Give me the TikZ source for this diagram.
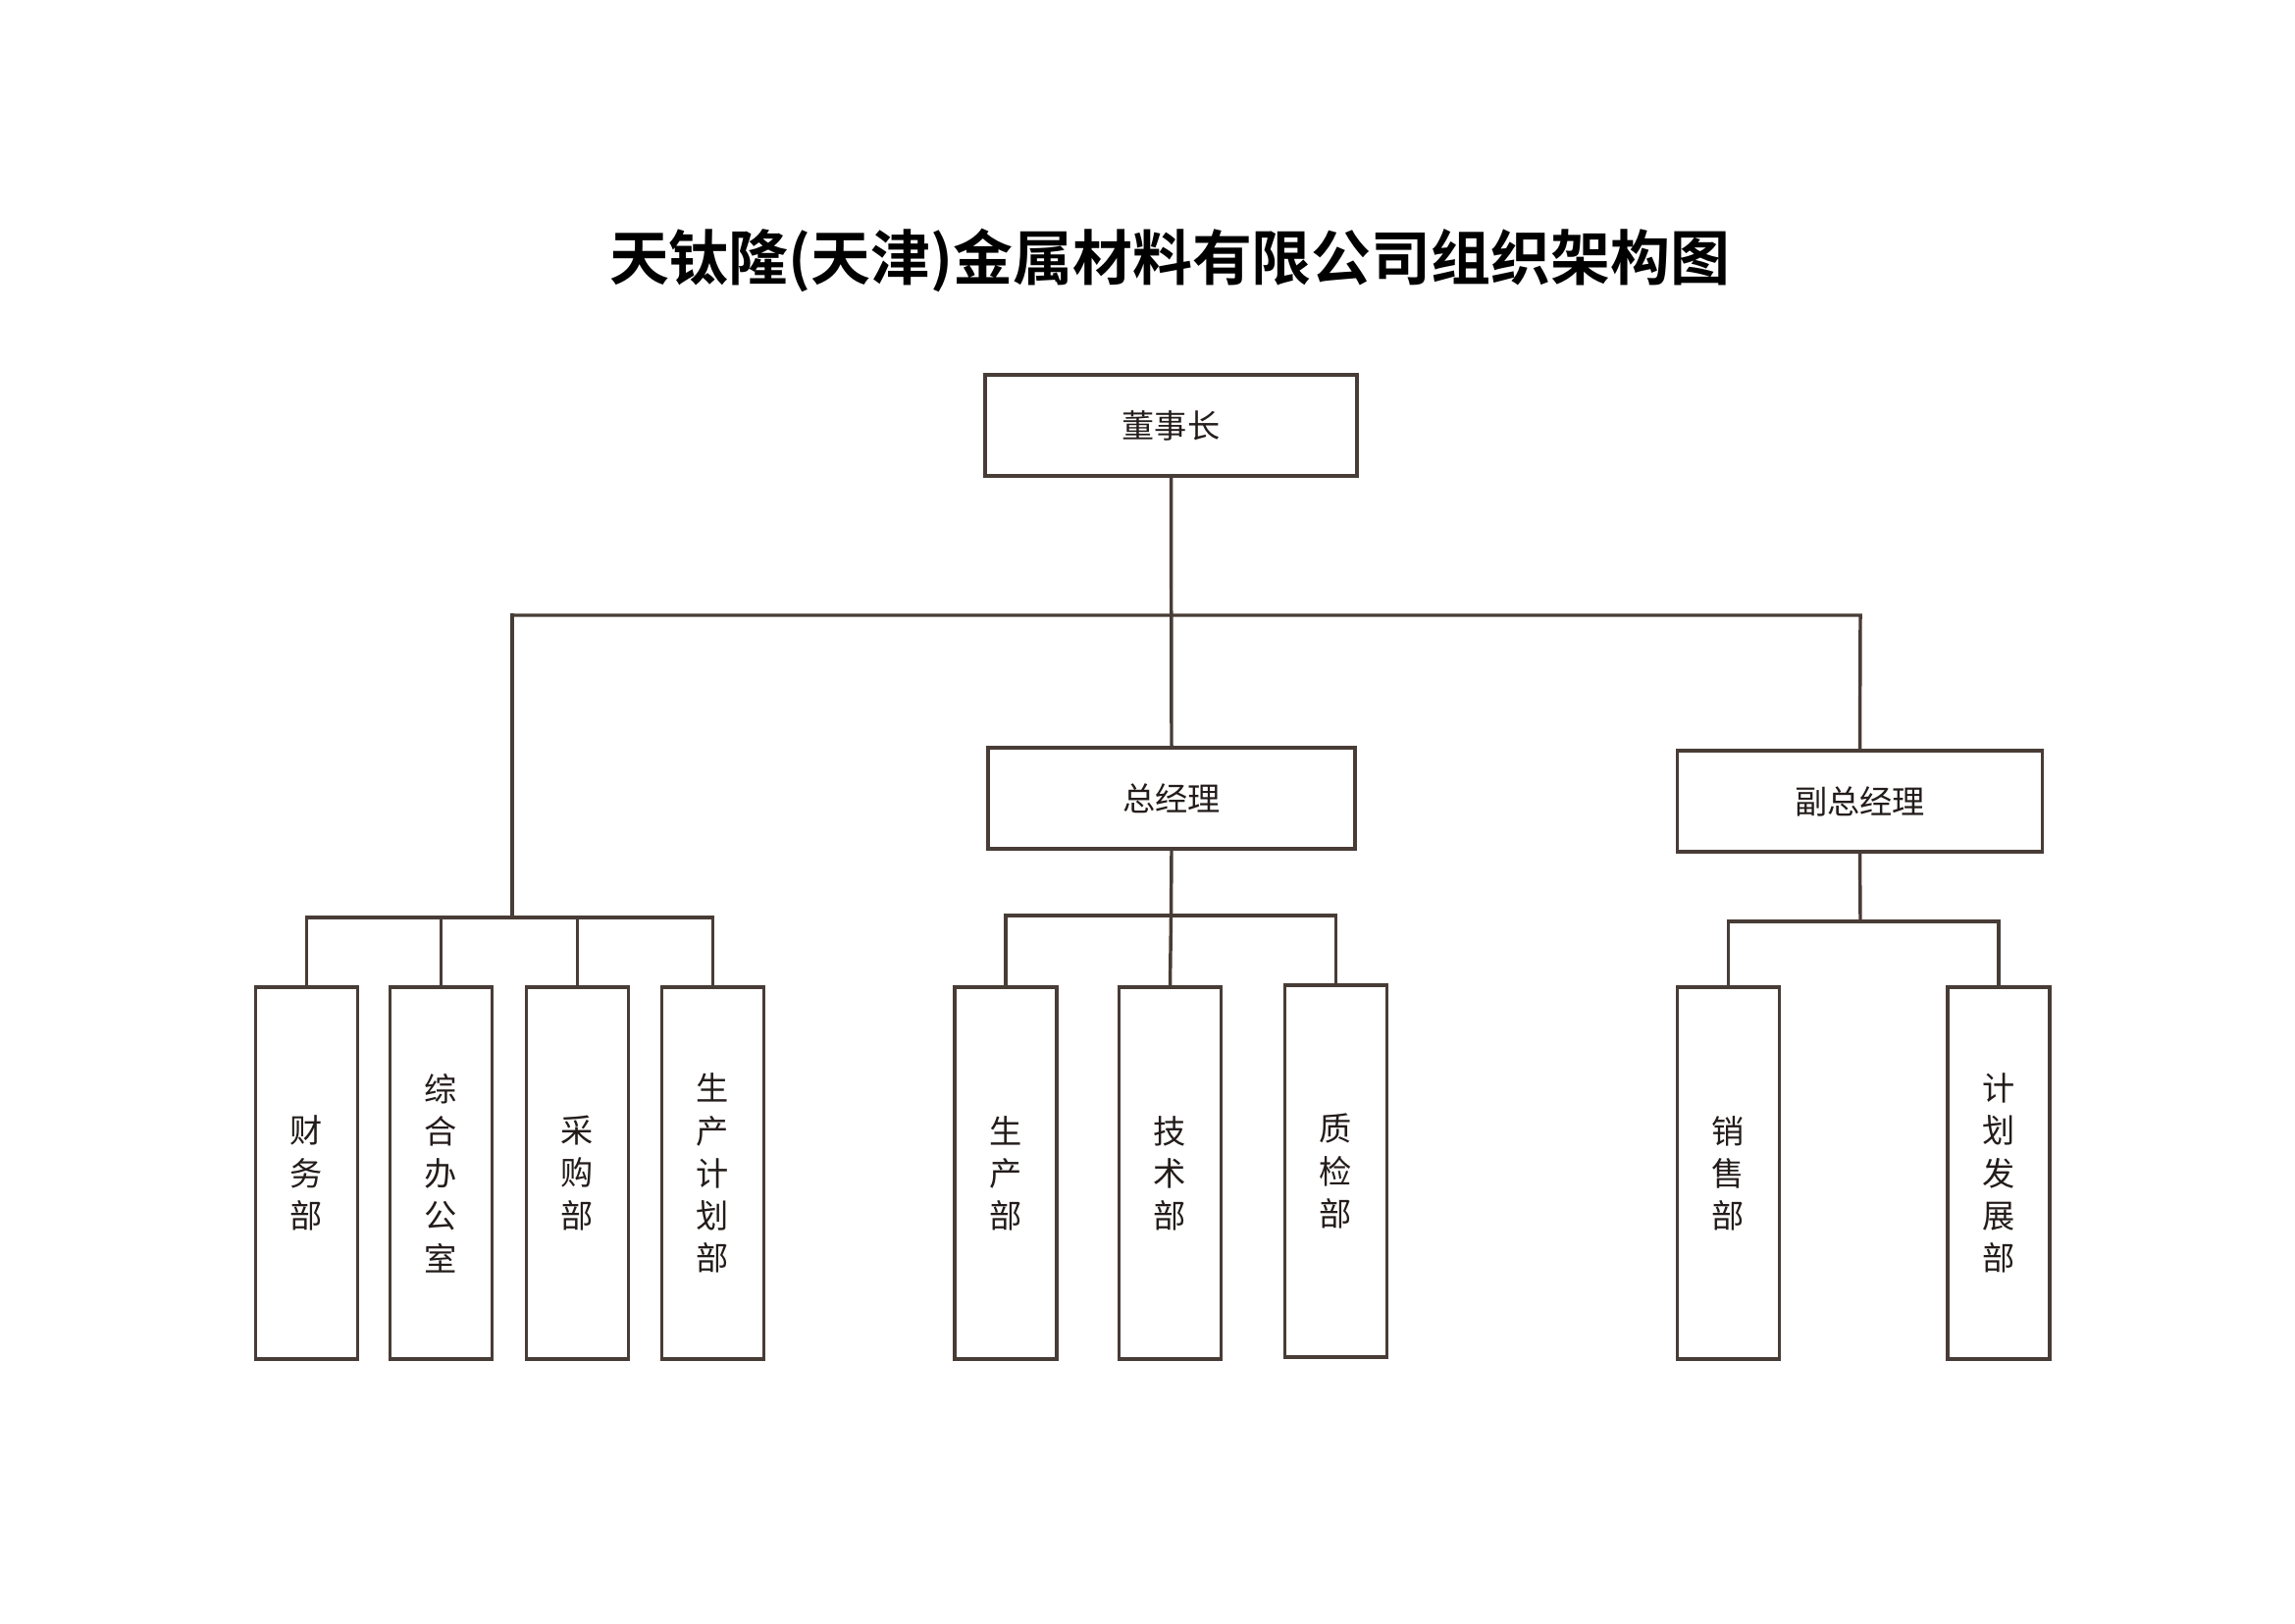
\documentclass[tikz,border=0pt]{standalone}
\usepackage{fontspec}
\newfontfamily\cjk{Noto Sans CJK SC}
\newfontfamily\cjkbold{Noto Sans CJK SC Bold}
\definecolor{linec}{RGB}{72,60,54}
\definecolor{textc}{RGB}{35,28,26}
\begin{document}
\begin{tikzpicture}[x=0.127mm,y=-0.127mm,
  box/.style={draw=linec, line width=1.25pt, fill=white, inner sep=0pt, text=textc,
    font=\cjk\fontsize{12pt}{15.6pt}\selectfont, align=center},
  hbox/.style={box, minimum height=103*0.127mm},
  vbox/.style={box, minimum width=104*0.127mm, minimum height=379*0.127mm},
  conn/.style={draw=linec, line width=1.25pt, line cap=rect}]
\fill[white] (0,0) rectangle (2339,1654);
\useasboundingbox (0,0) rectangle (2339,1654);

\node[font=\cjkbold\fontsize{22pt}{26pt}\selectfont, text=black] (title) at (1192,265) {天钛隆(天津)金属材料有限公司组织架构图};

\node[hbox, minimum width=379*0.127mm] (chair) at (1193.5,433.5) {董事长};
\node[hbox, minimum width=374*0.127mm] (gm) at (1194,813.5) {总经理};
\node[hbox, minimum width=372*0.127mm] (vgm) at (1895.5,816.5) {副总经理};

\node[vbox] (caiwu) at (312.5,1195.5) {财\\务\\部};
\node[vbox] (zonghe) at (449.5,1195.5) {综\\合\\办\\公\\室};
\node[vbox] (caigou) at (588.5,1195.5) {采\\购\\部};
\node[vbox] (scjh) at (726.5,1195.5) {生\\产\\计\\划\\部};

\node[vbox] (sc) at (1025,1195.5) {生\\产\\部};
\node[vbox] (js) at (1192.5,1195.5) {技\\术\\部};
\node[vbox] (zj) at (1361.5,1193.5) {质\\检\\部};

\node[vbox] (xs) at (1761.5,1195.5) {销\\售\\部};
\node[vbox] (jhfz) at (2037,1195.5) {计\\划\\发\\展\\部};

% top level bus
\coordinate (b1L) at (522,627);
\coordinate (b1M) at (1193.5,627);
\coordinate (b1R) at (1896,627);
\draw[conn] (chair.south) -- (gm.north);
\draw[conn] (b1L) -- (b1R) -- (vgm.north);

% left group
\coordinate (L2) at (522,935);
\draw[conn] (b1L) -- (L2);
\draw[conn] (caiwu.north) |- (L2);
\draw[conn] (L2) -| (scjh.north);
\draw[conn] (zonghe.north) -- (zonghe.north |- L2);
\draw[conn] (caigou.north) -- (caigou.north |- L2);

% middle group
\coordinate (M2) at (1193.5,933);
\draw[conn] (gm.south) -- (M2);
\draw[conn] (sc.north) |- (M2) -| (zj.north);
\draw[conn] (M2) -- (js.north);

% right group
\coordinate (R2) at (1896,939);
\draw[conn] (vgm.south) -- (R2);
\draw[conn] (xs.north) |- (R2) -| (jhfz.north);
\end{tikzpicture}
\end{document}
